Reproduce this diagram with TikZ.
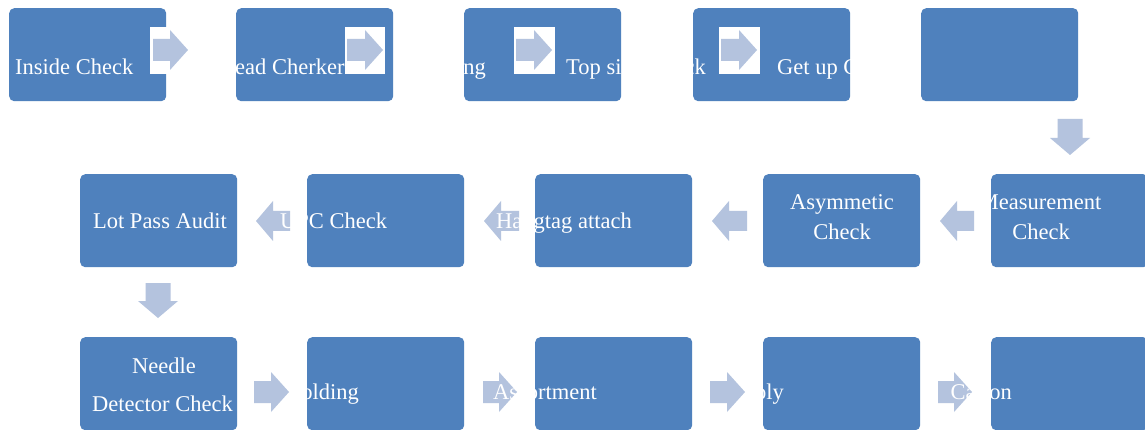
\documentclass[tikz,border=0pt]{standalone}
\usepackage{fontspec}
\setmainfont{Liberation Serif}
\definecolor{boxblue}{HTML}{4F81BD}
\definecolor{arrowblue}{HTML}{B4C3DE}
\tikzset{
  stepbox/.style={fill=boxblue, draw=none, rounded corners=5pt, minimum width=157pt, minimum height=93pt, anchor=north west, inner sep=0pt},
  lbl/.style={text=white, inner sep=0pt, font=\fontsize{22.5}{27}\selectfont},
  blockarrow/.style={fill=arrowblue, draw=none},
  maskbox/.style={fill=white, draw=none}
}
% right-pointing block arrow: shaft start x, tip x, centre y
\newcommand\blockR[3]{\fill[blockarrow] ({#1},{#3-11}) -- ({#2-18},{#3-11}) -- ({#2-18},{#3-20}) -- ({#2},{#3}) -- ({#2-18},{#3+20}) -- ({#2-18},{#3+11}) -- ({#1},{#3+11}) -- cycle;}
% left-pointing block arrow: tip x, shaft end x, centre y
\newcommand\blockL[3]{\fill[blockarrow] ({#1},{#3}) -- ({#1+17},{#3-20}) -- ({#1+17},{#3-10}) -- ({#2},{#3-10}) -- ({#2},{#3+10}) -- ({#1+17},{#3+10}) -- ({#1+17},{#3+20}) -- cycle;}
% down-pointing block arrow: centre x, top y, tip y
\newcommand\blockD[3]{\fill[blockarrow] ({#1-12.5},{#2}) -- ({#1+12.5},{#2}) -- ({#1+12.5},{#3-17}) -- ({#1+20},{#3-17}) -- ({#1},{#3}) -- ({#1-20},{#3-17}) -- ({#1-12.5},{#3-17}) -- cycle;}
\begin{document}
\begin{tikzpicture}[x=1pt,y=-1pt]
\clip (0,0) rectangle (1145,430);
\fill[white] (0,0) rectangle (1145,430);
% ---- row 1 ----
\node[stepbox] (b1) at (9,8) {};
\node[stepbox] (b2) at (236,8) {};
\node[stepbox] (b3) at (464,8) {};
\node[stepbox] (b4) at (693,8) {};
\node[stepbox] (b5) at (921,8) {};
\node[lbl, anchor=base west] (t1) at (15,75) {Inside Check};
\node[lbl, anchor=base west] (t2) at (235,75) {ead Cherker};
\node[lbl, anchor=base east] (t3) at (486,75) {ng};
\node[lbl, anchor=base west] (t4) at (566,75) {Top side Check};
\node[lbl, anchor=base west] (t5) at (777,75) {Get up Check};
\fill[maskbox] (150,27) rectangle (190,74);
\fill[maskbox] (345,27) rectangle (385,74);
\fill[maskbox] (514,27) rectangle (555,74);
\fill[maskbox] (719,27) rectangle (760,74);
\blockR{153}{188}{50}
\blockR{347}{383}{50}
\blockR{516}{552}{50}
\blockR{721}{757}{50}
\blockD{1070}{119}{155}
% ---- row 2 ----
\node[stepbox] (c1) at (80,174) {};
\node[stepbox] (c2) at (307,174) {};
\node[stepbox] (c3) at (535,174) {};
\node[stepbox] (c4) at (763,174) {};
\node[stepbox] (c5) at (991,174) {};
\blockL{256}{290}{221}
\blockL{484}{519}{221}
\blockL{712}{747}{221}
\blockL{940}{974}{221}
\node[lbl, anchor=base] (u1) at (160,229) {Lot Pass Audit};
\node[lbl, anchor=base west] (u2) at (280,229) {UPC Check};
\node[lbl, anchor=base west] (u3) at (496,229) {Hangtag attach};
\node[lbl, anchor=base] (u4a) at (842,210) {Asymmetic};
\node[lbl, anchor=base] (u4b) at (842,240) {Check};
\node[lbl, anchor=base] (u5a) at (1040,210) {Measurement};
\node[lbl, anchor=base] (u5b) at (1041,240) {Check};
\blockD{158}{283}{318}
% ---- row 3 ----
\node[stepbox] (d1) at (80,337) {};
\node[stepbox] (d2) at (307,337) {};
\node[stepbox] (d3) at (535,337) {};
\node[stepbox] (d4) at (763,337) {};
\node[stepbox] (d5) at (991,337) {};
\blockR{254}{289}{392}
\blockR{483}{517}{392}
\blockR{710}{745}{392}
\blockR{938}{972}{392}
\node[lbl, anchor=base] (v1a) at (164,373) {Needle};
\node[lbl, anchor=base] (v1b) at (162.5,411) {Detector Check};
\node[lbl, anchor=base east] (v2) at (359,399) {Folding};
\node[lbl, anchor=base west] (v3) at (493,399) {Assortment};
\node[lbl, anchor=base east] (v4) at (784,399) {Poly};
\node[lbl, anchor=base west] (v5) at (950.5,399) {Carton};
\end{tikzpicture}
\end{document}
